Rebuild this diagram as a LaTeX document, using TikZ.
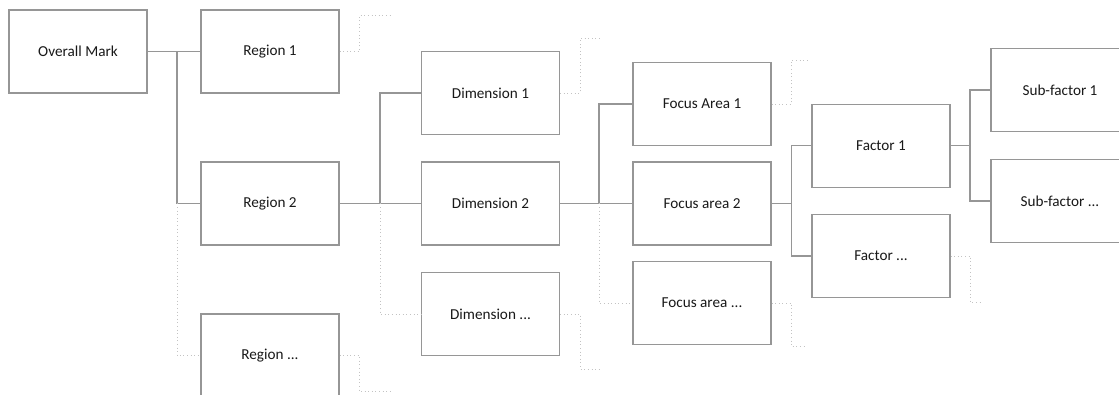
\documentclass[tikz,border=0pt]{standalone}
\usepackage{fontspec}
\setmainfont{Carlito}
\definecolor{boxline}{RGB}{150,150,150}
\definecolor{ghostline}{RGB}{195,195,195}
\definecolor{labeltext}{RGB}{25,25,25}
\begin{document}
\begin{tikzpicture}[x=0.75pt,y=-0.75pt,
  box/.style={draw=boxline,line width=0.9pt,fill=white,
    minimum width=103.5pt,minimum height=62.25pt,inner sep=0pt,
    font=\fontsize{11.4}{13}\selectfont,text=labeltext},
  conn/.style={draw=boxline,line width=0.8pt},
  ghost/.style={draw=ghostline,line width=0.7pt,dotted}]
\useasboundingbox (0,0) rectangle (1119,395);

% tree levels
\node[box] (om) at (78,51.5) {Overall Mark};
\node[box] (r1) at (270,51.5) {Region 1};
\node[box] (r2) at (270,203.5) {Region 2};
\node[box] (r3) at (270,355.5) {Region ...};
\node[box] (d1) at (490.5,93) {Dimension 1};
\node[box] (d2) at (490.5,203.5) {Dimension 2};
\node[box] (d3) at (490.5,314) {Dimension ...};
\node[box] (f1) at (702,104) {Focus Area 1};
\node[box] (f2) at (702,203.5) {Focus area 2};
\node[box] (f3) at (702,303) {Focus area ...};
\node[box] (fa1) at (881,145.7) {Factor 1};
\node[box] (fa2) at (881,256) {Factor ...};
\node[box] (s1) at (1060,90) {Sub-factor 1};
\node[box] (s2) at (1060,201) {Sub-factor ...};

% branch points
\coordinate (j1) at (177,51.5);
\coordinate (j2) at (380,203.5);
\coordinate (j3) at (599,203.5);
\coordinate (j4) at (791.7,203.5);
\coordinate (j5) at (970,145.7);

% solid connectors
\draw[conn] (om.east) -- (r1.west);
\draw[conn] (j1) |- (r2.west);
\draw[conn] (r2.east) -- (d2.west);
\draw[conn] (j2) |- (d1.west);
\draw[conn] (d2.east) -- (f2.west);
\draw[conn] (j3) |- (f1.west);
\draw[conn] (f2.east) -- (j4);
\draw[conn] (j4) |- (fa1.west);
\draw[conn] (j4) |- (fa2.west);
\draw[conn] (fa1.east) -- (j5);
\draw[conn] (j5) |- (s1.west);
\draw[conn] (j5) |- (s2.west);

% dotted continuation branches
\draw[ghost] (j1 |- r2.west) |- (r3.west);
\draw[ghost] (j2) |- (d3.west);
\draw[ghost] (j3) |- (f3.west);

% dotted stubs to further levels
\coordinate (e1) at (392,15);
\coordinate (e2) at (392,391.7);
\coordinate (e3) at (600,38.3);
\coordinate (e4) at (600,369);
\coordinate (e5) at (808,60);
\coordinate (e6) at (805,346.7);
\coordinate (e7) at (983,302.7);
\draw[ghost] (r1.east) -- ++(20,0) |- (e1);
\draw[ghost] (r3.east) -- ++(20,0) |- (e2);
\draw[ghost] (d1.east) -- ++(20,0) |- (e3);
\draw[ghost] (d3.east) -- ++(20,0) |- (e4);
\draw[ghost] (f1.east) -- ++(20,0) |- (e5);
\draw[ghost] (f3.east) -- ++(20,0) |- (e6);
\draw[ghost] (fa2.east) -- ++(20,0) |- (e7);
\end{tikzpicture}
\end{document}
